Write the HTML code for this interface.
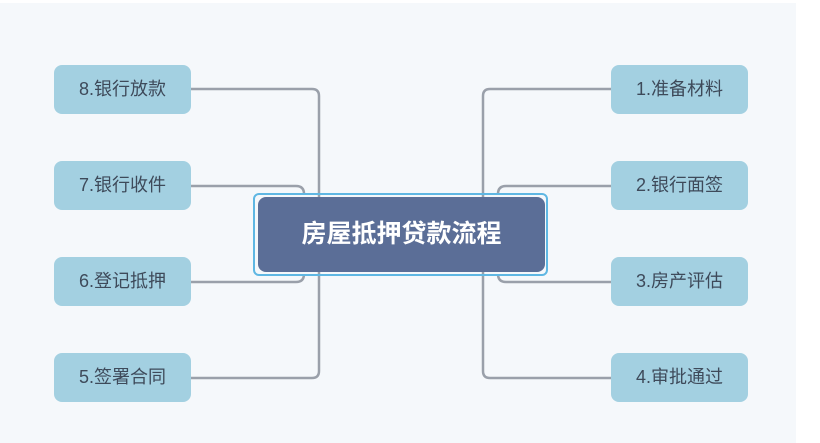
<!DOCTYPE html>
<html><head><meta charset="utf-8"><style>
html,body{margin:0;padding:0;}
body{width:820px;height:443px;background:#fff;position:relative;overflow:hidden;font-family:"Liberation Sans","Noto Sans CJK SC",sans-serif;}
.bg{position:absolute;left:0;top:3px;width:796px;height:440px;background:#f5f8fb;}
.n{position:absolute;width:137px;height:49px;background:#a3d0e1;border-radius:8px;color:#3e4a5a;font-size:18px;line-height:49px;text-align:center;}
.c{position:absolute;left:253px;top:193px;width:291px;height:79px;border:2px solid #5fb7e3;border-radius:6px;}
.ci{position:absolute;left:258px;top:197px;width:287px;height:75px;background:#5b6e97;border-radius:8px;color:#fff;font-size:25px;font-weight:bold;line-height:75px;text-align:center;}
svg{position:absolute;left:0;top:0;}
</style></head><body>
<div class="bg"></div>
<svg width="820" height="443"><g fill="none" stroke="#9aa0aa" stroke-width="2.5">
<path d="M191 89 H312 Q319 89 319 96 V371 Q319 378 312 378 H191"/>
<path d="M191 186 H296 Q304 186 304 194"/>
<path d="M191 282 H296 Q304 282 304 274"/>
<path d="M611 89 H490 Q483 89 483 96 V371 Q483 378 490 378 H611"/>
<path d="M611 186 H506 Q498 186 498 194"/>
<path d="M611 282 H506 Q498 282 498 274"/>
</g></svg>
<div class="c"></div>
<div class="ci">房屋抵押贷款流程</div>
<div class="n" style="left:54px;top:65px">8.银行放款</div>
<div class="n" style="left:54px;top:161px">7.银行收件</div>
<div class="n" style="left:54px;top:257px">6.登记抵押</div>
<div class="n" style="left:54px;top:353px">5.签署合同</div>
<div class="n" style="left:611px;top:65px">1.准备材料</div>
<div class="n" style="left:611px;top:161px">2.银行面签</div>
<div class="n" style="left:611px;top:257px">3.房产评估</div>
<div class="n" style="left:611px;top:353px">4.审批通过</div>
</body></html>
